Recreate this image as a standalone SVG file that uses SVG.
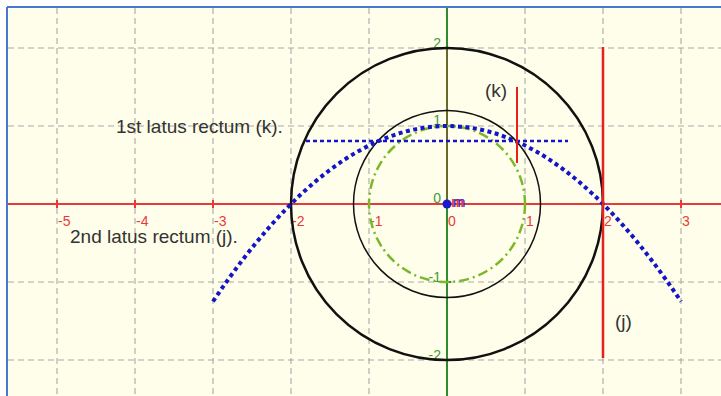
<svg xmlns="http://www.w3.org/2000/svg" width="721" height="396" viewBox="0 0 721 396">
<defs>
<style>
.grid{stroke:#a8a8a8;stroke-width:1.1;stroke-dasharray:6,4;fill:none}
.lbl{font-family:"Liberation Sans",Arial,sans-serif;font-size:19px;fill:#333}
.xl{font-family:"Liberation Sans",Arial,sans-serif;font-size:14px;fill:#e83a3a}
.yl{font-family:"Liberation Sans",Arial,sans-serif;font-size:14px;fill:#3c9a3c;text-anchor:end}
</style>
</defs>
<rect x="0" y="0" width="721" height="396" fill="#ffffff"/>
<rect x="7" y="7" width="714" height="389" fill="#fefeea"/>
<g id="grid">
<path class="grid" d="M57 8V396M135 8V396M213 8V396M291 8V396M369 8V396M525 8V396M603 8V396M681 8V396"/>
<path class="grid" d="M8 48H721M8 126H721M8 282H721M8 360H721"/>
</g>
<g id="axes">
<line x1="8" y1="204" x2="721" y2="204" stroke="#e83a3a" stroke-width="2"/>
<path d="M57 200V208M135 200V208M213 200V208M291 200V208M369 200V208M525 200V208M603 200V208M681 200V208" stroke="#e83a3a" stroke-width="2"/>
<line x1="447" y1="8" x2="447" y2="396" stroke="#2e8b2e" stroke-width="2"/>
<line x1="447" y1="48" x2="447" y2="204" stroke="#b04020" stroke-width="1.5" opacity="0.6"/>
<path d="M443 48H451M443 126H451M443 282H451M443 360H451" stroke="#2e8b2e" stroke-width="2"/>
<text class="xl" x="58" y="226">-5</text>
<text class="xl" x="136" y="226">-4</text>
<text class="xl" x="214" y="226">-3</text>
<text class="xl" x="292" y="226">-2</text>
<text class="xl" x="370" y="226">-1</text>
<text class="xl" x="448" y="226">0</text>
<text class="xl" x="526" y="226">1</text>
<text class="xl" x="604" y="226">2</text>
<text class="xl" x="682" y="226">3</text>
<text class="yl" x="441" y="48">2</text>
<text class="yl" x="441" y="125">1</text>
<text class="yl" x="441" y="203">0</text>
<text class="yl" x="441" y="282">-1</text>
<text class="yl" x="441" y="360">-2</text>
</g>
<g id="circles">
<circle cx="447" cy="204" r="156" fill="none" stroke="#111" stroke-width="2.5"/>
<circle cx="447" cy="204" r="93.5" fill="none" stroke="#111" stroke-width="1.5"/>
<circle cx="447" cy="204" r="78" fill="none" stroke="#7ab82a" stroke-width="2.5" stroke-dasharray="10,4,2,4"/>
</g>
<g id="parabola">
<path d="M213 301.5Q447 -49.5 681 301.5" fill="none" stroke="#1414c8" stroke-width="4" stroke-dasharray="4,3.5"/>
</g>
<g id="latus-k">
<line x1="306" y1="141" x2="568" y2="141" stroke="#1414c8" stroke-width="2.5" stroke-dasharray="4,3"/>
<line x1="517" y1="87" x2="517" y2="163" stroke="#e82020" stroke-width="2"/>
<text class="lbl" x="485" y="97">(k)</text>
</g>
<g id="latus-j">
<line x1="603" y1="47" x2="603" y2="358" stroke="#e82020" stroke-width="2.5"/>
<text class="lbl" x="615" y="328">(j)</text>
</g>
<g id="origin">
<text x="451" y="207" font-family="Liberation Sans,Arial,sans-serif" font-size="15" font-weight="bold" fill="#e83a3a">m</text>
<text x="453" y="207" font-family="Liberation Sans,Arial,sans-serif" font-size="15" fill="#3030d0">m</text>
<circle cx="447" cy="204" r="4.5" fill="#1a1acc"/>
</g>
<g id="labels">
<text class="lbl" x="116" y="133">1st latus rectum (k).</text>
<text class="lbl" x="70" y="243">2nd latus rectum (j).</text>
</g>
<line x1="7" y1="7" x2="721" y2="7" stroke="#4a78cc" stroke-width="2"/>
<line x1="7" y1="7" x2="7" y2="396" stroke="#4a78cc" stroke-width="2"/>
</svg>
